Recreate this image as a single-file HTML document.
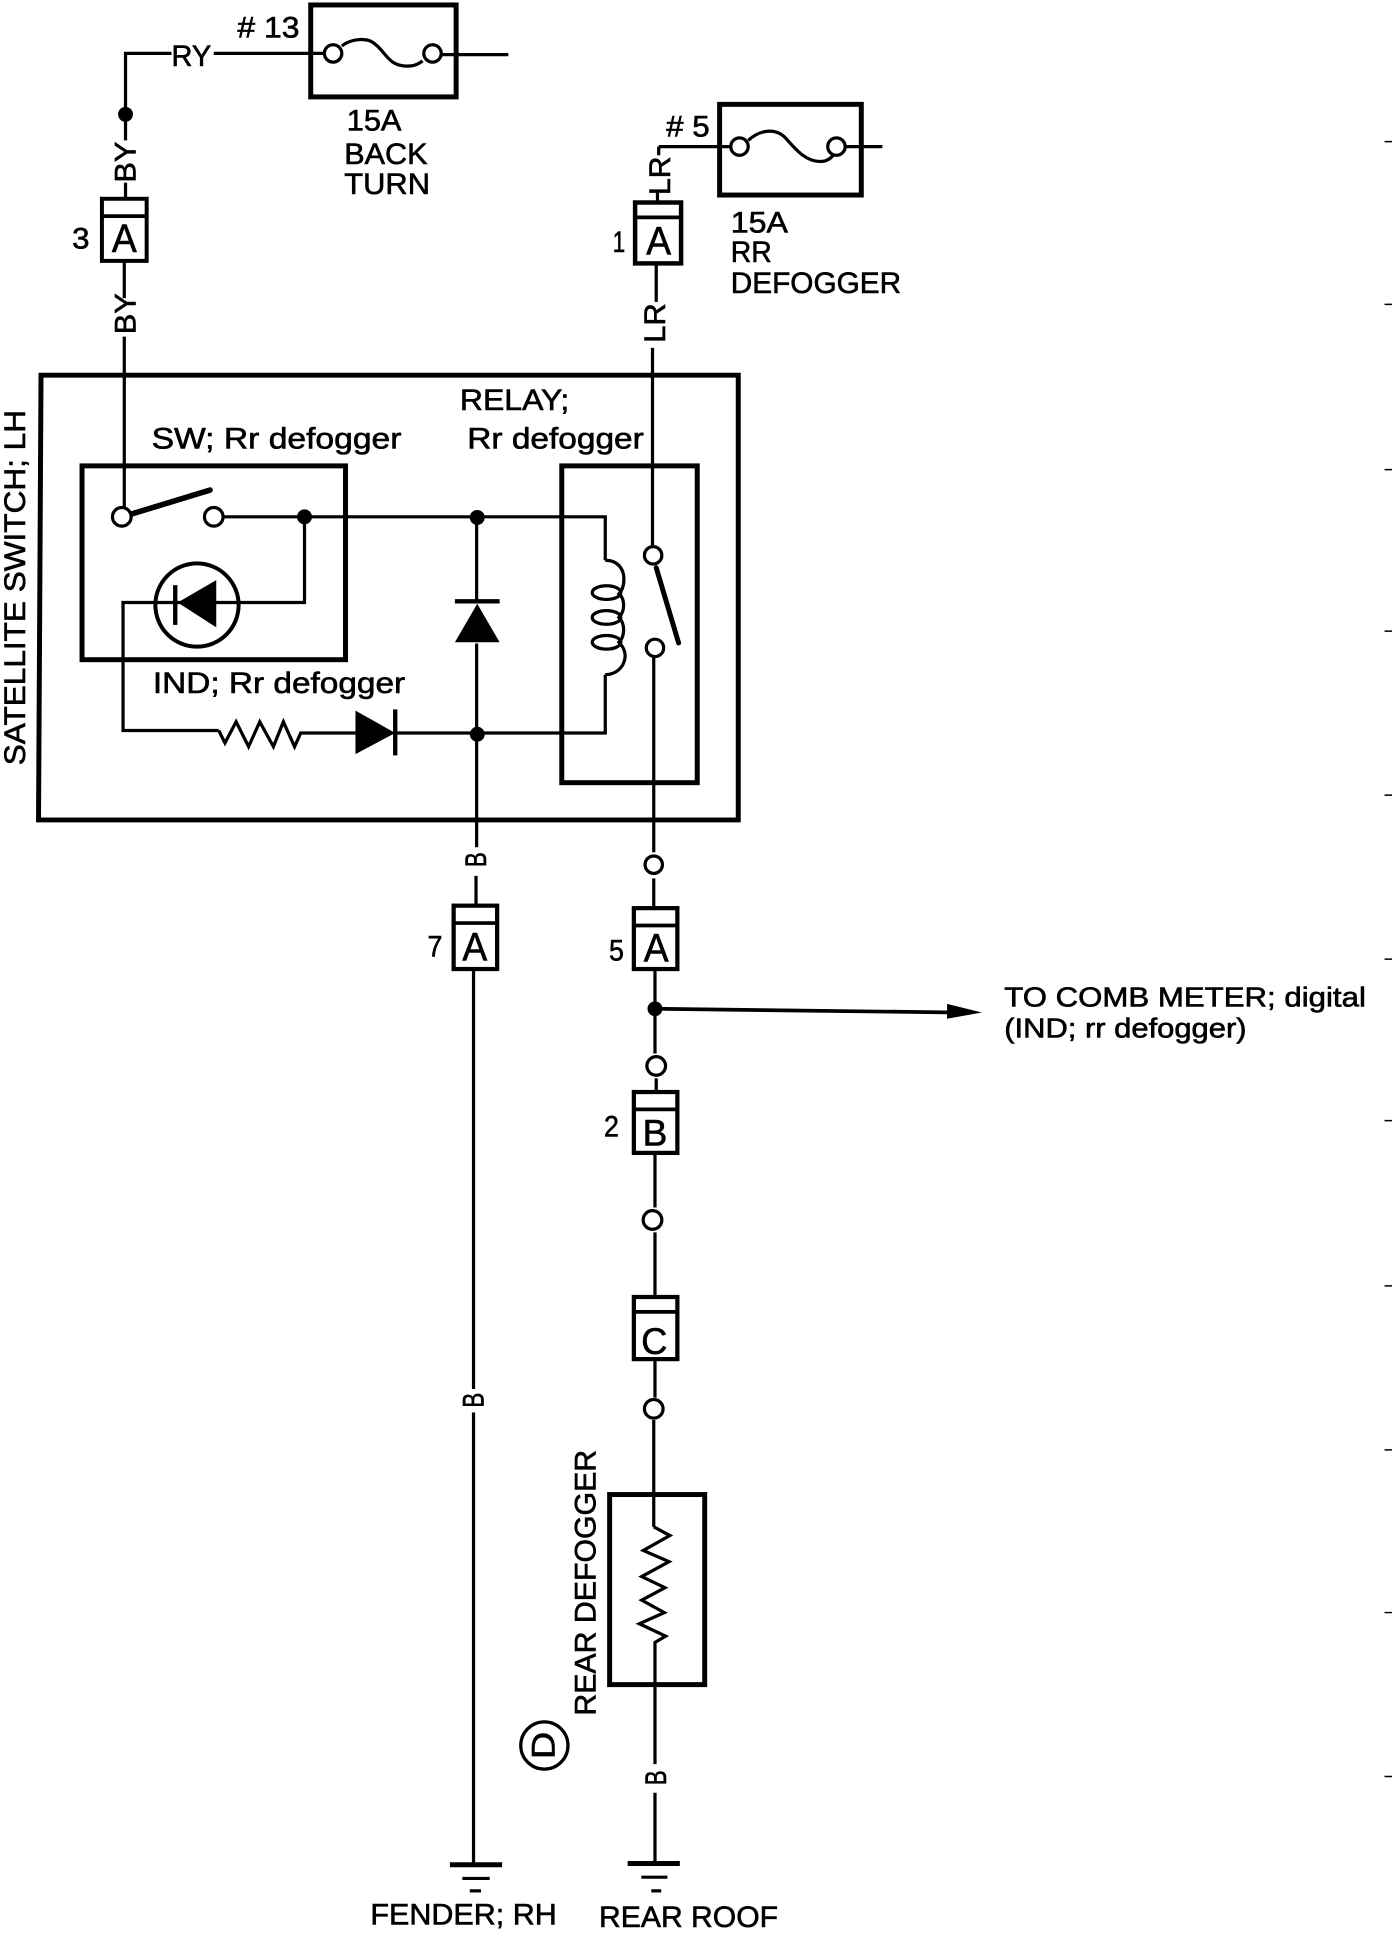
<!DOCTYPE html>
<html><head><meta charset="utf-8"><style>
html,body{margin:0;padding:0;background:#fff}
svg{display:block}
text{font-family:"Liberation Sans",sans-serif;fill:#000;stroke:#000;stroke-width:.5}
.w{fill:none;stroke:#000;stroke-width:2.6}
.b{fill:none;stroke:#000;stroke-width:4}
.o{fill:#fff;stroke:#000;stroke-width:2.6}
.f{fill:#000;stroke:none}
</style></head><body>
<svg width="1392" height="1948" viewBox="0 0 1120 1568" preserveAspectRatio="none" xmlns="http://www.w3.org/2000/svg">
<!-- edge ticks -->
<path d="M1114 114h6M1114 245h6M1114 378h6M1114 508h6M1114 640h6M1114 772h6M1114 902h6M1114 1035h6M1114 1167h6M1114 1298h6M1114 1430h6" stroke="#000" stroke-width="1.2"/>

<!-- fuse 13 -->
<rect class="b" x="250" y="4" width="117" height="74"/>
<path class="w" d="M101 113V43H138M172 43H262M355 44H409"/>
<path class="w" d="M275 37C280 33 290 30 298 33C306 37 310 46 316 50C322 54 333 55 340 49"/>
<circle class="o" cx="268" cy="43" r="7"/><circle class="o" cx="348" cy="43" r="7"/>
<circle class="f" cx="101" cy="92" r="6"/>
<text x="138" y="53" font-size="24" textLength="32" lengthAdjust="spacingAndGlyphs">RY</text>
<text x="191" y="30" font-size="24" textLength="50" lengthAdjust="spacingAndGlyphs"># 13</text>
<text x="279" y="105" font-size="24" textLength="44" lengthAdjust="spacingAndGlyphs">15A</text>
<text x="277" y="132" font-size="24" textLength="67" lengthAdjust="spacingAndGlyphs">BACK</text>
<text x="277" y="156" font-size="24" textLength="69" lengthAdjust="spacingAndGlyphs">TURN</text>
<text transform="translate(109 147) rotate(-90)" font-size="24" textLength="33" lengthAdjust="spacingAndGlyphs">BY</text>

<!-- connector 3 A -->
<path class="w" d="M101 147V160M100 210V240M100 271V410"/>
<rect x="82" y="160" width="36" height="50" fill="#fff" stroke="#000" stroke-width="3.2"/>
<path d="M82 174H118" stroke="#000" stroke-width="3"/>
<text x="90" y="203" font-size="32" textLength="20" lengthAdjust="spacingAndGlyphs">A</text>
<text x="58" y="200" font-size="24" textLength="14" lengthAdjust="spacingAndGlyphs">3</text>
<text transform="translate(109 269) rotate(-90)" font-size="24" textLength="33" lengthAdjust="spacingAndGlyphs">BY</text>

<!-- fuse 5 -->
<rect class="b" x="579" y="84" width="114" height="73"/>
<path class="w" d="M530 118H588M680 118H710M530 118V125"/>
<path class="w" d="M602 113C612 104 624 103 632 111C640 120 648 130 660 130C666 130 669 127 671 124"/>
<circle class="o" cx="595" cy="118" r="7"/><circle class="o" cx="673" cy="118" r="7"/>
<text x="536" y="110" font-size="24" textLength="35" lengthAdjust="spacingAndGlyphs"># 5</text>
<text x="588" y="187" font-size="24" textLength="46" lengthAdjust="spacingAndGlyphs">15A</text>
<text x="588" y="211" font-size="24" textLength="33" lengthAdjust="spacingAndGlyphs">RR</text>
<text x="588" y="236" font-size="24" textLength="137" lengthAdjust="spacingAndGlyphs">DEFOGGER</text>
<text transform="translate(539 157) rotate(-90)" font-size="24" textLength="31" lengthAdjust="spacingAndGlyphs">LR</text>

<!-- connector 1 A -->
<path class="w" d="M529 155V163M528 212V243M525 280V441"/>
<rect x="511" y="163" width="37" height="49" fill="#fff" stroke="#000" stroke-width="3.6"/>
<path d="M511 175H548" stroke="#000" stroke-width="3"/>
<text x="520" y="205" font-size="32" textLength="20" lengthAdjust="spacingAndGlyphs">A</text>
<text x="493" y="203" font-size="24" textLength="10" lengthAdjust="spacingAndGlyphs">1</text>
<text transform="translate(535 276) rotate(-90)" font-size="24" textLength="32" lengthAdjust="spacingAndGlyphs">LR</text>

<!-- satellite switch box -->
<path class="b" d="M33 302H594V660H31Z"/>
<text transform="translate(20 616) rotate(-90)" font-size="24" textLength="286" lengthAdjust="spacingAndGlyphs">SATELLITE SWITCH; LH</text>
<text x="370" y="330" font-size="24" textLength="88" lengthAdjust="spacingAndGlyphs">RELAY;</text>
<text x="376" y="361" font-size="24" textLength="142" lengthAdjust="spacingAndGlyphs">Rr defogger</text>
<text x="122" y="361" font-size="24" textLength="201" lengthAdjust="spacingAndGlyphs">SW; Rr defogger</text>
<text x="123" y="558" font-size="24" textLength="203" lengthAdjust="spacingAndGlyphs">IND; Rr defogger</text>

<!-- SW box -->
<rect class="b" x="66" y="375" width="212" height="156"/>
<path d="M105 414L169 394.5" stroke="#000" stroke-width="4.5" stroke-linecap="round"/>
<circle class="o" cx="98" cy="416" r="7.5"/><circle class="o" cx="172" cy="416" r="7.5"/>
<path class="w" d="M180 416H487V451"/>
<path class="w" d="M245 416V485H99V588H176"/>
<circle cx="158.5" cy="487" r="33.5" fill="none" stroke="#000" stroke-width="3.2"/>
<path class="f" d="M143 485L174 467V505Z"/>
<path d="M141 471V503" stroke="#000" stroke-width="3.5"/>
<circle class="f" cx="245" cy="416" r="6"/><circle class="f" cx="384" cy="416.5" r="6"/>
<!-- resistor -->
<path class="w" d="M176 588L181 598L190 581L200 601L209 581L220 601L228 581L237 601L242 590H286"/>
<path class="f" d="M286 572L318 590L286 607Z"/>
<path d="M318 571V608" stroke="#000" stroke-width="3.5"/>
<path class="w" d="M318 590H487V543"/>
<circle class="f" cx="384" cy="591" r="6"/>
<!-- vertical diode and wire -->
<path class="w" d="M383.5 416V484M383.5 518V682M383 705V729M381 780V1118M381 1137V1500"/>
<path class="f" d="M384 486L402 517H366Z"/>
<path d="M366 484H402" stroke="#000" stroke-width="3.5"/>

<!-- relay box -->
<rect class="b" x="452" y="375" width="109" height="255"/>
<path class="w" d="M487 451C497 451 502 458 502 466C502 470 501 475 498 478C503 482 503 492 498 497C503 502 503 512 498 517C503 522 504 528 502 533C500 539 494 543 487 543"/>
<ellipse class="w" cx="488" cy="477" rx="11.5" ry="5.5"/>
<ellipse class="w" cx="488" cy="497" rx="11.5" ry="5.5"/>
<ellipse class="w" cx="488" cy="517" rx="11.5" ry="5.5"/>
<path d="M528 457L546 517.5" stroke="#000" stroke-width="4" stroke-linecap="round"/>
<circle class="o" cx="525.5" cy="447" r="7"/><circle class="o" cx="527" cy="521.5" r="7"/>
<path class="w" d="M526 528V686M526 707V730"/>

<!-- labels B / O -->
<text transform="translate(391 698) rotate(-90)" font-size="24" textLength="12" lengthAdjust="spacingAndGlyphs">B</text>
<circle class="o" cx="526" cy="696" r="7"/>

<!-- connector 7 A -->
<rect x="365" y="729" width="35" height="51" fill="#fff" stroke="#000" stroke-width="3.4"/>
<path d="M365 743H400" stroke="#000" stroke-width="3"/>
<text x="372" y="773" font-size="32" textLength="20" lengthAdjust="spacingAndGlyphs">A</text>
<text x="344" y="770" font-size="24" textLength="12" lengthAdjust="spacingAndGlyphs">7</text>

<!-- connector 5 A -->
<rect x="510" y="731" width="35" height="49" fill="#fff" stroke="#000" stroke-width="3.4"/>
<path d="M510 745H545" stroke="#000" stroke-width="3"/>
<text x="518" y="774" font-size="32" textLength="20" lengthAdjust="spacingAndGlyphs">A</text>
<text x="490" y="773" font-size="24" textLength="12" lengthAdjust="spacingAndGlyphs">5</text>

<path class="w" d="M527 780V848M528 868V878M527 928V972M527 992V1043M527 1095V1125M526 1143V1229"/>
<circle class="f" cx="527" cy="812" r="6"/>
<path d="M527 812L770 815" stroke="#000" stroke-width="3"/>
<path class="f" d="M762 808L790 815L762 820Z"/>
<text x="808" y="810" font-size="22" textLength="291" lengthAdjust="spacingAndGlyphs">TO COMB METER; digital</text>
<text x="808" y="835" font-size="22" textLength="195" lengthAdjust="spacingAndGlyphs">(IND; rr defogger)</text>
<circle class="o" cx="528" cy="858" r="7.5"/>

<!-- connector 2 B -->
<rect x="510" y="879" width="35" height="49" fill="#fff" stroke="#000" stroke-width="3.4"/>
<path d="M510 893H545" stroke="#000" stroke-width="3"/>
<text x="517" y="922" font-size="30" textLength="20" lengthAdjust="spacingAndGlyphs">B</text>
<text x="486" y="915" font-size="24" textLength="12" lengthAdjust="spacingAndGlyphs">2</text>
<circle class="o" cx="525" cy="982" r="7.5"/>

<!-- connector C -->
<rect x="510" y="1044" width="35" height="50" fill="#fff" stroke="#000" stroke-width="3.4"/>
<path d="M510 1056H545" stroke="#000" stroke-width="3"/>
<text x="516" y="1090" font-size="30" textLength="21" lengthAdjust="spacingAndGlyphs">C</text>
<circle class="o" cx="526" cy="1134" r="7.5"/>

<!-- B on fender line -->
<text transform="translate(389 1133) rotate(-90)" font-size="24" textLength="12" lengthAdjust="spacingAndGlyphs">B</text>

<!-- rear defogger -->
<rect class="b" x="490.5" y="1203" width="76.5" height="153"/>
<path class="w" d="M526 1229L539 1236L517.6 1248L538.3 1257L516.3 1269L535 1278L516.3 1288L534.5 1298L514.4 1307L535.6 1317L527 1322V1420M527 1443V1498"/>
<text transform="translate(479 1381) rotate(-90)" font-size="24" textLength="214" lengthAdjust="spacingAndGlyphs">REAR DEFOGGER</text>
<circle cx="438" cy="1405" r="19" fill="none" stroke="#000" stroke-width="2.6"/>
<text transform="translate(446 1416) rotate(-90)" font-size="26" textLength="22" lengthAdjust="spacingAndGlyphs">D</text>
<text transform="translate(536 1437) rotate(-90)" font-size="24" textLength="12" lengthAdjust="spacingAndGlyphs">B</text>

<!-- grounds -->
<path d="M362 1501H404" stroke="#000" stroke-width="4"/>
<path d="M372 1512H394" stroke="#000" stroke-width="2.6"/>
<path d="M378 1522H387" stroke="#000" stroke-width="2.6"/>
<path d="M505 1500H547" stroke="#000" stroke-width="4"/>
<path d="M516 1511H537" stroke="#000" stroke-width="2.6"/>
<path d="M524 1522H532" stroke="#000" stroke-width="2.6"/>
<text x="298" y="1549" font-size="24" textLength="150" lengthAdjust="spacingAndGlyphs">FENDER; RH</text>
<text x="482" y="1551" font-size="24" textLength="144" lengthAdjust="spacingAndGlyphs">REAR ROOF</text>
</svg>
</body></html>
